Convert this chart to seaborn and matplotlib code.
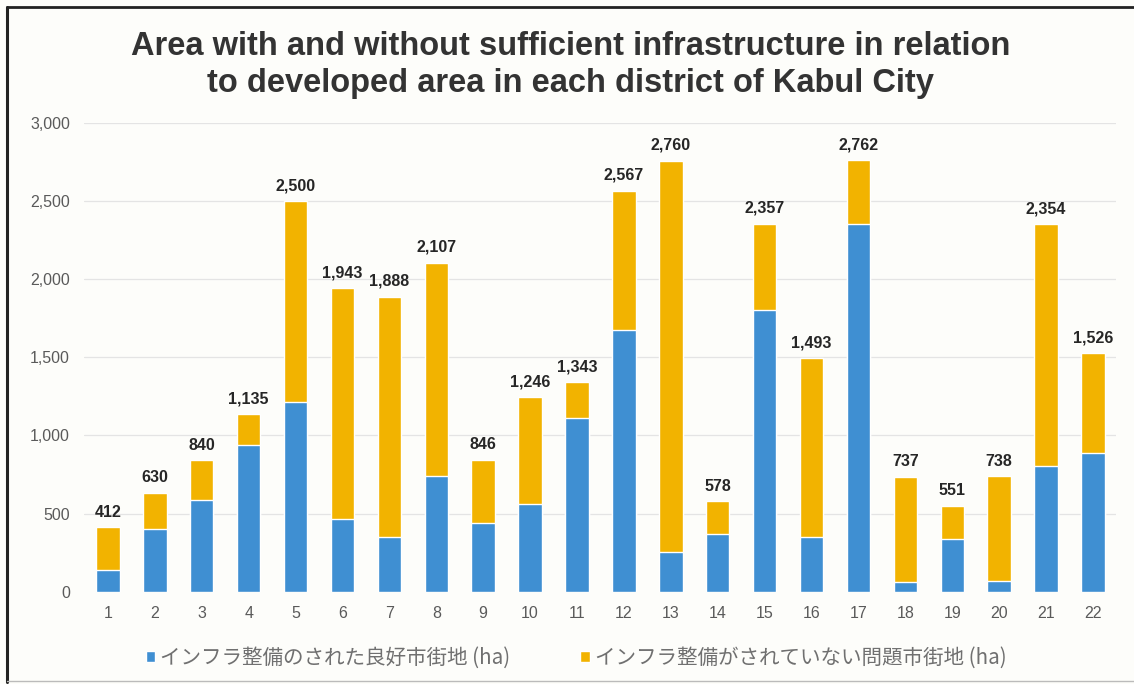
import matplotlib
matplotlib.use("Agg")
import matplotlib.pyplot as plt
from matplotlib.patches import Patch
from matplotlib.lines import Line2D
import seaborn as sns
import pandas as pd

districts = [str(i) for i in range(1, 23)]
totals = [412, 630, 840, 1135, 2500, 1943, 1888, 2107, 846, 1246, 1343,
          2567, 2760, 578, 2357, 1493, 2762, 737, 551, 738, 2354, 1526]
with_infra = [139, 399, 587, 939, 1217, 463, 352, 741, 438, 559, 1110,
              1676, 256, 369, 1804, 348, 2353, 60, 337, 70, 807, 886]
without_infra = [t - w for t, w in zip(totals, with_infra)]

label_with = "インフラ整備のされた良好市街地 (ha)"
label_without = "インフラ整備がされていない問題市街地 (ha)"
title = "Area with and without sufficient infrastructure in relation\nto developed area in each district of Kabul City"
yticks = [0, 500, 1000, 1500, 2000, 2500, 3000]

blue = "#3F8FD2"
orange = "#F2B300"

df = pd.DataFrame({"district": districts, "total": totals,
                   "with": with_infra, "without": without_infra})

sns.set_theme(style="white")
plt.rcParams['font.family'] = ['Liberation Sans', 'Noto Sans CJK JP', 'DejaVu Sans']

fig = plt.figure(figsize=(11.34, 6.84), dpi=100)
fig.patch.set_facecolor("#FDFDFA")
ax = fig.add_axes([0.0745, 0.135, 0.910, 0.685])
ax.set_facecolor("#FDFDFA")

for y in yticks[1:]:
    ax.axhline(y, color="#E4E4E4", lw=0.9, zorder=0)

sns.barplot(data=df, x="district", y="total", color=orange, width=0.5,
            saturation=1, ax=ax, zorder=2)
sns.barplot(data=df, x="district", y="with", color=blue, width=0.5,
            saturation=1, ax=ax, zorder=3)

for i, t in enumerate(totals):
    ax.text(i, t + 50, f"{t:,}", ha="center", va="bottom", fontsize=11.5,
            fontweight="bold", color="#262626")

ax.set_ylim(0, 3000)
ax.set_xlim(-0.5, 21.5)
ax.set_yticks(yticks)
ax.set_yticklabels([f"{v:,}" for v in yticks])
ax.set_xlabel("")
ax.set_ylabel("")
ax.tick_params(axis="both", length=0, labelsize=11.5, colors="#5A5A5A")
ax.tick_params(axis="y", pad=10.5)
ax.tick_params(axis="x", pad=10)
for s in ax.spines.values():
    s.set_visible(False)

fig.text(0.503, 0.905, title, ha="center", va="center", fontsize=23.5,
         fontweight="bold", color="#333333", linespacing=1.22)

handles = [Patch(facecolor=blue, label=label_with),
           Patch(facecolor=orange, label=label_without)]
leg = fig.legend(handles=handles, loc="center", bbox_to_anchor=(0.508, 0.038),
                 ncol=2, frameon=False, handlelength=0.45, handleheight=0.45,
                 handletextpad=0.25, columnspacing=3.4,
                 prop={"family": ["Noto Sans CJK JP", "DejaVu Sans"], "size": 14.8})
for t in leg.get_texts():
    t.set_color("#707070")

# scanned frame lines
fig.add_artist(Line2D([0.0065, 0.0065], [0.003, 0.99], color="#222222", lw=2.2,
                      transform=fig.transFigure))
fig.add_artist(Line2D([0.0065, 1.0], [0.99, 0.99], color="#222222", lw=2.0,
                      transform=fig.transFigure))
fig.add_artist(Line2D([0.0065, 1.0], [0.004, 0.004], color="#BBBBBB", lw=1.0,
                      transform=fig.transFigure))

fig.savefig("out.png", dpi=100, facecolor=fig.get_facecolor())
